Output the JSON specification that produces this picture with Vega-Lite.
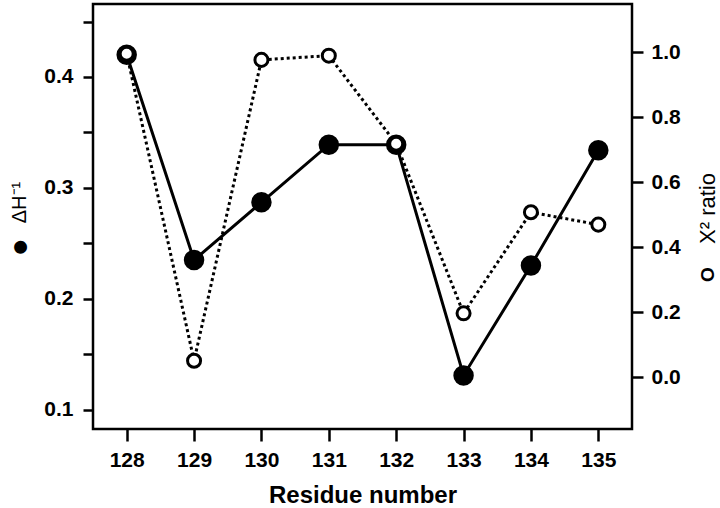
{
  "$schema": "https://vega.github.io/schema/vega-lite/v6.json",
  "width": 539,
  "height": 425,
  "autosize": {"type": "none"},
  "padding": {"left": 93, "top": 4, "right": 88, "bottom": 79},
  "background": "white",
  "config": {
    "view": {"stroke": "#000", "strokeWidth": 2.5},
    "axis": {
      "domain": false,
      "grid": false,
      "ticks": true,
      "tickColor": "#000",
      "tickWidth": 2.5,
      "labelFont": "Liberation Sans",
      "labelFontWeight": "bold",
      "labelFontSize": 21,
      "labelColor": "#000",
      "titleFont": "Liberation Sans",
      "titleColor": "#000"
    }
  },
  "data": {
    "values": [
      {"residue": 128, "dh": 0.42, "chi": 0.995},
      {"residue": 129, "dh": 0.235, "chi": 0.05},
      {"residue": 130, "dh": 0.287, "chi": 0.976},
      {"residue": 131, "dh": 0.339, "chi": 0.989},
      {"residue": 132, "dh": 0.339, "chi": 0.718},
      {"residue": 133, "dh": 0.131, "chi": 0.196},
      {"residue": 134, "dh": 0.23, "chi": 0.507},
      {"residue": 135, "dh": 0.334, "chi": 0.469}
    ]
  },
  "encoding": {
    "x": {
      "field": "residue",
      "type": "quantitative",
      "scale": {"domain": [127.5, 135.5], "nice": false, "zero": false},
      "axis": {
        "values": [128, 129, 130, 131, 132, 133, 134, 135],
        "format": "d",
        "tickSize": 12,
        "labelPadding": 8,
        "labelFlush": false,
        "title": "Residue number",
        "titleFontSize": 24,
        "titleFontWeight": "bold",
        "titleX": 269.5,
        "titleY": 73,
        "titleAlign": "center",
        "titleBaseline": "alphabetic"
      }
    }
  },
  "layer": [
    {
      "layer": [
        {
          "mark": {"type": "line", "color": "#000", "strokeWidth": 3},
          "encoding": {
            "y": {
              "field": "dh",
              "type": "quantitative",
              "scale": {"domain": [0.0827, 0.4658], "nice": false, "zero": false},
              "axis": {
                "orient": "left",
                "values": [0.1, 0.15, 0.2, 0.25, 0.3, 0.35, 0.4, 0.45],
                "labelExpr": "(round(datum.value*100) % 10 == 0) ? format(datum.value, '.1f') : ''",
                "tickSize": 10,
                "labelPadding": 10,
                "title": "ΔH⁻¹",
                "titleFontSize": 20,
                "titleFontWeight": "normal",
                "titleAngle": -90,
                "titleX": -74,
                "titleY": 198,
                "titleAlign": "center",
                "titleBaseline": "middle"
              }
            }
          }
        },
        {
          "mark": {"type": "point", "filled": true, "color": "#000", "size": 420, "opacity": 1},
          "encoding": {
            "y": {
              "field": "dh",
              "type": "quantitative",
              "axis": {
                "orient": "left",
                "labels": false,
                "ticks": false,
                "domain": false,
                "title": "●",
                "titleFontSize": 30,
                "titleFontWeight": "normal",
                "titleAngle": -90,
                "titleX": -74,
                "titleY": 243,
                "titleAlign": "center",
                "titleBaseline": "middle"
              }
            }
          }
        }
      ],
      "resolve": {"axis": {"y": "independent"}}
    },
    {
      "layer": [
        {
          "mark": {"type": "line", "color": "#000", "strokeWidth": 3, "strokeDash": [3, 3]},
          "encoding": {
            "y": {
              "field": "chi",
              "type": "quantitative",
              "scale": {"domain": [-0.16, 1.148], "nice": false, "zero": false},
              "axis": {
                "orient": "right",
                "values": [0, 0.2, 0.4, 0.6, 0.8, 1.0],
                "format": ".1f",
                "tickSize": 11,
                "labelPadding": 8,
                "title": "X² ratio",
                "titleFontSize": 22,
                "titleFontWeight": "normal",
                "titleAngle": -90,
                "titleX": 75,
                "titleY": 204,
                "titleAlign": "center",
                "titleBaseline": "middle"
              }
            }
          }
        },
        {
          "mark": {"type": "point", "filled": true, "fill": "white", "stroke": "#000", "strokeWidth": 3, "size": 170, "opacity": 1},
          "encoding": {
            "y": {
              "field": "chi",
              "type": "quantitative",
              "axis": {
                "orient": "right",
                "labels": false,
                "ticks": false,
                "domain": false,
                "title": "O",
                "titleFontSize": 19,
                "titleFontWeight": "bold",
                "titleAngle": -90,
                "titleX": 75,
                "titleY": 270,
                "titleAlign": "center",
                "titleBaseline": "middle"
              }
            }
          }
        }
      ],
      "resolve": {"axis": {"y": "independent"}}
    }
  ],
  "resolve": {"scale": {"y": "independent"}}
}
